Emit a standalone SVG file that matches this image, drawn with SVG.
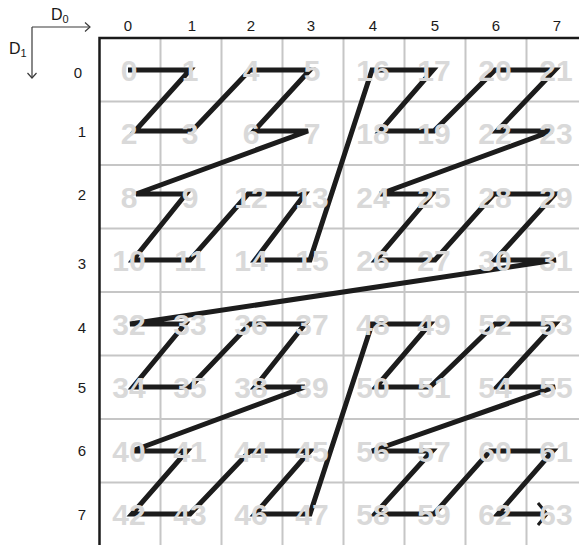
<svg xmlns="http://www.w3.org/2000/svg" width="579" height="545" viewBox="0 0 579 545">
<style>
.grid{stroke:#c6c6c6;stroke-width:2;fill:none}
.border{stroke:#1a1a1a;stroke-width:2.5;fill:none}
.axis{stroke:#3a3a3a;stroke-width:1.2;fill:none}
.lbl{font-family:"Liberation Sans",Arial,sans-serif;font-size:15px;fill:#1a1a1a;text-anchor:middle}
.ax{font-family:"Liberation Sans",Arial,sans-serif;font-size:16px;fill:#1a1a1a}
.sub{font-size:11px}
.num{font-family:"Liberation Sans",Arial,sans-serif;font-size:30px;font-weight:bold;fill:#d9d9d9;text-anchor:middle}
.curve{stroke:#1c1c1c;stroke-width:5;fill:none;stroke-linejoin:miter;stroke-miterlimit:3}
</style>
<defs>
<marker id="chev" viewBox="-10 -12 12 24" refX="0" refY="0" markerWidth="12" markerHeight="24" markerUnits="userSpaceOnUse" orient="auto">
<path d="M-9,-11 L0,0 L-9,11" stroke="#1c1c1c" stroke-width="3" fill="none"/>
</marker>
<marker id="axh" viewBox="-6 -6 8 12" refX="0" refY="0" markerWidth="8" markerHeight="12" markerUnits="userSpaceOnUse" orient="auto">
<path d="M-5,-4.5 L0,0 L-5,4.5" stroke="#3a3a3a" stroke-width="1.2" fill="none"/>
</marker>
</defs>
<rect width="579" height="545" fill="#ffffff"/>
<g id="axes">
<path class="axis" d="M32,27 H90" marker-end="url(#axh)"/>
<path class="axis" d="M32,27 V78" marker-end="url(#axh)"/>
<text class="ax" x="51" y="20">D<tspan class="sub" dy="3">0</tspan></text>
<text class="ax" x="9" y="54">D<tspan class="sub" dy="3">1</tspan></text>
</g>
<g id="col-labels">
<text class="lbl" x="128" y="31">0</text>
<text class="lbl" x="192" y="31">1</text>
<text class="lbl" x="251" y="31">2</text>
<text class="lbl" x="311" y="31">3</text>
<text class="lbl" x="373" y="31">4</text>
<text class="lbl" x="435" y="31">5</text>
<text class="lbl" x="496" y="31">6</text>
<text class="lbl" x="557" y="31">7</text>
</g>
<g id="row-labels">
<text class="lbl" x="78" y="78">0</text>
<text class="lbl" x="82" y="136.5">1</text>
<text class="lbl" x="82" y="199.5">2</text>
<text class="lbl" x="82" y="268.5">3</text>
<text class="lbl" x="82" y="332.5">4</text>
<text class="lbl" x="82" y="392.5">5</text>
<text class="lbl" x="82" y="455.5">6</text>
<text class="lbl" x="82" y="519.5">7</text>
</g>
<g id="grid">
<path class="grid" d="M160.5,38 V545 M221.5,38 V545 M282.5,38 V545 M343.5,38 V545 M404.5,38 V545 M465.5,38 V545 M526.5,38 V545"/>
<path class="grid" d="M99.5,101.5 H579 M99.5,165 H579 M99.5,228.5 H579 M99.5,292 H579 M99.5,355.5 H579 M99.5,419 H579 M99.5,482.5 H579"/>
<path class="border" d="M99.5,545 V38 H579"/>
</g>
<g id="connectors">
<path class="curve" marker-end="url(#chev)" d="M128,70 L190,70 L135,131 L192,131 L250,70 L310,70 L254,131 L308,131 L136,194 L186,194 L133,260 L190,260 L248,194 L305,194 L255,260 L310,260 L372,70 L433,70 L380,131 L434,131 L495,70 L555,70 L497,131 L552,131 L380,194 L432,194 L376,260 L435,260 L494,194 L555,194 L495,260 L556,260 L130,324 L185,324 L133,387 L190,387 L250,324 L305,324 L255,387 L305,387 L132,451 L187,451 L132,514 L190,514 L250,451 L310,451 L255,514 L310,514 L372,324 L430,324 L376,387 L430,387 L495,324 L555,324 L497,387 L555,387 L372,451 L432,451 L375,514 L434,514 L490,451 L553,451 L498,514 L547,514"/>
</g>
<g id="cells">
<g id="cell-0"><text class="num" x="129" y="80.75">0</text></g>
<g id="cell-1"><text class="num" x="190" y="80.75">1</text></g>
<g id="cell-4"><text class="num" x="251" y="80.75">4</text></g>
<g id="cell-5"><text class="num" x="312" y="80.75">5</text></g>
<g id="cell-16"><text class="num" x="373" y="80.75">16</text></g>
<g id="cell-17"><text class="num" x="434" y="80.75">17</text></g>
<g id="cell-20"><text class="num" x="495" y="80.75">20</text></g>
<g id="cell-21"><text class="num" x="556" y="80.75">21</text></g>
<g id="cell-2"><text class="num" x="129" y="144.25">2</text></g>
<g id="cell-3"><text class="num" x="190" y="144.25">3</text></g>
<g id="cell-6"><text class="num" x="251" y="144.25">6</text></g>
<g id="cell-7"><text class="num" x="312" y="144.25">7</text></g>
<g id="cell-18"><text class="num" x="373" y="144.25">18</text></g>
<g id="cell-19"><text class="num" x="434" y="144.25">19</text></g>
<g id="cell-22"><text class="num" x="495" y="144.25">22</text></g>
<g id="cell-23"><text class="num" x="556" y="144.25">23</text></g>
<g id="cell-8"><text class="num" x="129" y="207.75">8</text></g>
<g id="cell-9"><text class="num" x="190" y="207.75">9</text></g>
<g id="cell-12"><text class="num" x="251" y="207.75">12</text></g>
<g id="cell-13"><text class="num" x="312" y="207.75">13</text></g>
<g id="cell-24"><text class="num" x="373" y="207.75">24</text></g>
<g id="cell-25"><text class="num" x="434" y="207.75">25</text></g>
<g id="cell-28"><text class="num" x="495" y="207.75">28</text></g>
<g id="cell-29"><text class="num" x="556" y="207.75">29</text></g>
<g id="cell-10"><text class="num" x="129" y="271.25">10</text></g>
<g id="cell-11"><text class="num" x="190" y="271.25">11</text></g>
<g id="cell-14"><text class="num" x="251" y="271.25">14</text></g>
<g id="cell-15"><text class="num" x="312" y="271.25">15</text></g>
<g id="cell-26"><text class="num" x="373" y="271.25">26</text></g>
<g id="cell-27"><text class="num" x="434" y="271.25">27</text></g>
<g id="cell-30"><text class="num" x="495" y="271.25">30</text></g>
<g id="cell-31"><text class="num" x="556" y="271.25">31</text></g>
<g id="cell-32"><text class="num" x="129" y="334.75">32</text></g>
<g id="cell-33"><text class="num" x="190" y="334.75">33</text></g>
<g id="cell-36"><text class="num" x="251" y="334.75">36</text></g>
<g id="cell-37"><text class="num" x="312" y="334.75">37</text></g>
<g id="cell-48"><text class="num" x="373" y="334.75">48</text></g>
<g id="cell-49"><text class="num" x="434" y="334.75">49</text></g>
<g id="cell-52"><text class="num" x="495" y="334.75">52</text></g>
<g id="cell-53"><text class="num" x="556" y="334.75">53</text></g>
<g id="cell-34"><text class="num" x="129" y="398.25">34</text></g>
<g id="cell-35"><text class="num" x="190" y="398.25">35</text></g>
<g id="cell-38"><text class="num" x="251" y="398.25">38</text></g>
<g id="cell-39"><text class="num" x="312" y="398.25">39</text></g>
<g id="cell-50"><text class="num" x="373" y="398.25">50</text></g>
<g id="cell-51"><text class="num" x="434" y="398.25">51</text></g>
<g id="cell-54"><text class="num" x="495" y="398.25">54</text></g>
<g id="cell-55"><text class="num" x="556" y="398.25">55</text></g>
<g id="cell-40"><text class="num" x="129" y="461.75">40</text></g>
<g id="cell-41"><text class="num" x="190" y="461.75">41</text></g>
<g id="cell-44"><text class="num" x="251" y="461.75">44</text></g>
<g id="cell-45"><text class="num" x="312" y="461.75">45</text></g>
<g id="cell-56"><text class="num" x="373" y="461.75">56</text></g>
<g id="cell-57"><text class="num" x="434" y="461.75">57</text></g>
<g id="cell-60"><text class="num" x="495" y="461.75">60</text></g>
<g id="cell-61"><text class="num" x="556" y="461.75">61</text></g>
<g id="cell-42"><text class="num" x="129" y="525.25">42</text></g>
<g id="cell-43"><text class="num" x="190" y="525.25">43</text></g>
<g id="cell-46"><text class="num" x="251" y="525.25">46</text></g>
<g id="cell-47"><text class="num" x="312" y="525.25">47</text></g>
<g id="cell-58"><text class="num" x="373" y="525.25">58</text></g>
<g id="cell-59"><text class="num" x="434" y="525.25">59</text></g>
<g id="cell-62"><text class="num" x="495" y="525.25">62</text></g>
<g id="cell-63"><text class="num" x="556" y="525.25">63</text></g>
</g>
</svg>
